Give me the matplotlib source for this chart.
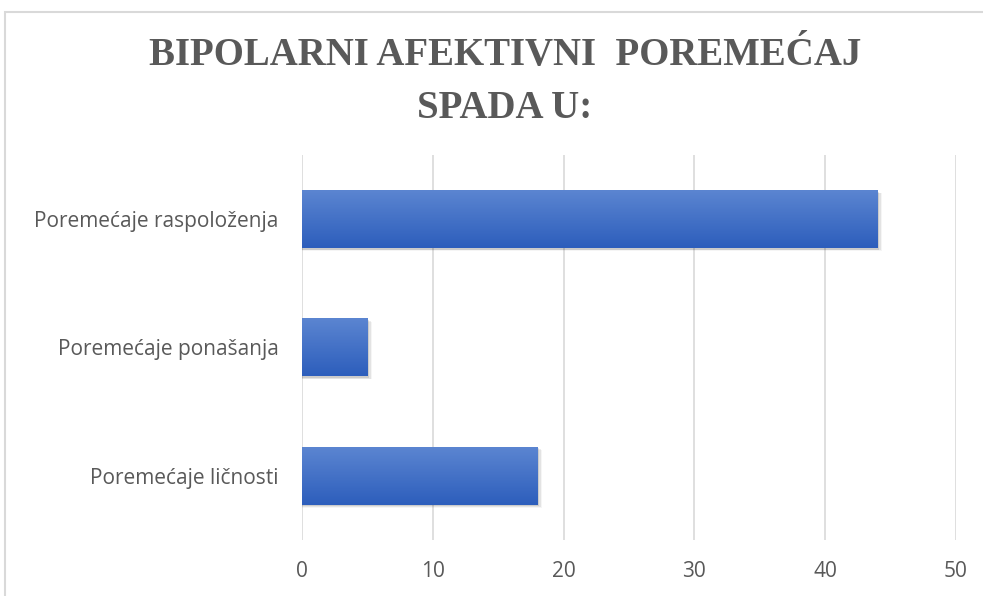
import numpy as np
import matplotlib.pyplot as plt
from matplotlib.patches import Rectangle

categories = ['Poremećaje ličnosti', 'Poremećaje ponašanja', 'Poremećaje raspoloženja']
values = [18, 5, 44]
x_ticks = [0, 10, 20, 30, 40, 50]
title = 'BIPOLARNI AFEKTIVNI  POREMEĆAJ\nSPADA U:'

text_color = '#595959'
grid_color = '#d9d9d9'

fig = plt.figure(figsize=(9.83, 5.96), dpi=100)
# chart frame
fig.patches.append(Rectangle((5 / 983, -0.05), 1.0, (596 - 12) / 596 + 0.05,
                             transform=fig.transFigure, fill=False,
                             edgecolor=grid_color, linewidth=1.5))

ax = fig.add_axes([302 / 983, 56 / 596, 654 / 983, 385 / 596])

# gradient for bars: lighter on top, darker at bottom
grad = np.linspace(0, 1, 64).reshape(-1, 1)
top_c = np.array([0x5b, 0x85, 0xd1]) / 255
bot_c = np.array([0x2d, 0x5e, 0xbc]) / 255
img = top_c + (bot_c - top_c) * grad[:, :, None] * np.ones((1, 2, 1))

bar_h = 0.45
for i, v in enumerate(values):
    # soft shadow
    for k, a in enumerate([0.10, 0.07, 0.04]):
        off = 0.12 + 0.12 * k
        ax.add_patch(Rectangle((0, i - bar_h / 2 - 0.012 - 0.006 * k), v + off, bar_h,
                               facecolor='black', alpha=a, edgecolor='none', zorder=2))
    ax.imshow(img, extent=(0, v, i - bar_h / 2, i + bar_h / 2), aspect='auto',
              zorder=3, interpolation='bilinear')

ax.set_xlim(0, 50)
ax.set_ylim(-0.5, 2.5)
ax.set_xticks(x_ticks)
ax.set_xticklabels([str(t) for t in x_ticks])
ax.set_yticks(range(len(categories)))
ax.set_yticklabels(categories)
ax.xaxis.grid(True, color=grid_color, linewidth=1.2)
ax.set_axisbelow(True)
for s in ax.spines.values():
    s.set_visible(False)
ax.tick_params(axis='both', length=0, colors=text_color, labelsize=15)
ax.tick_params(axis='y', pad=17)
ax.tick_params(axis='x', pad=15)
for lab in ax.get_xticklabels() + ax.get_yticklabels():
    lab.set_fontfamily('Open Sans')
    lab.set_color(text_color)

fig.text(505 / 983, 1 - 82 / 596, title, ha='center', va='center',
         fontsize=28, fontweight='bold', family='Liberation Serif',
         color=text_color, linespacing=1.55)

fig.savefig('out.png', dpi=100)
